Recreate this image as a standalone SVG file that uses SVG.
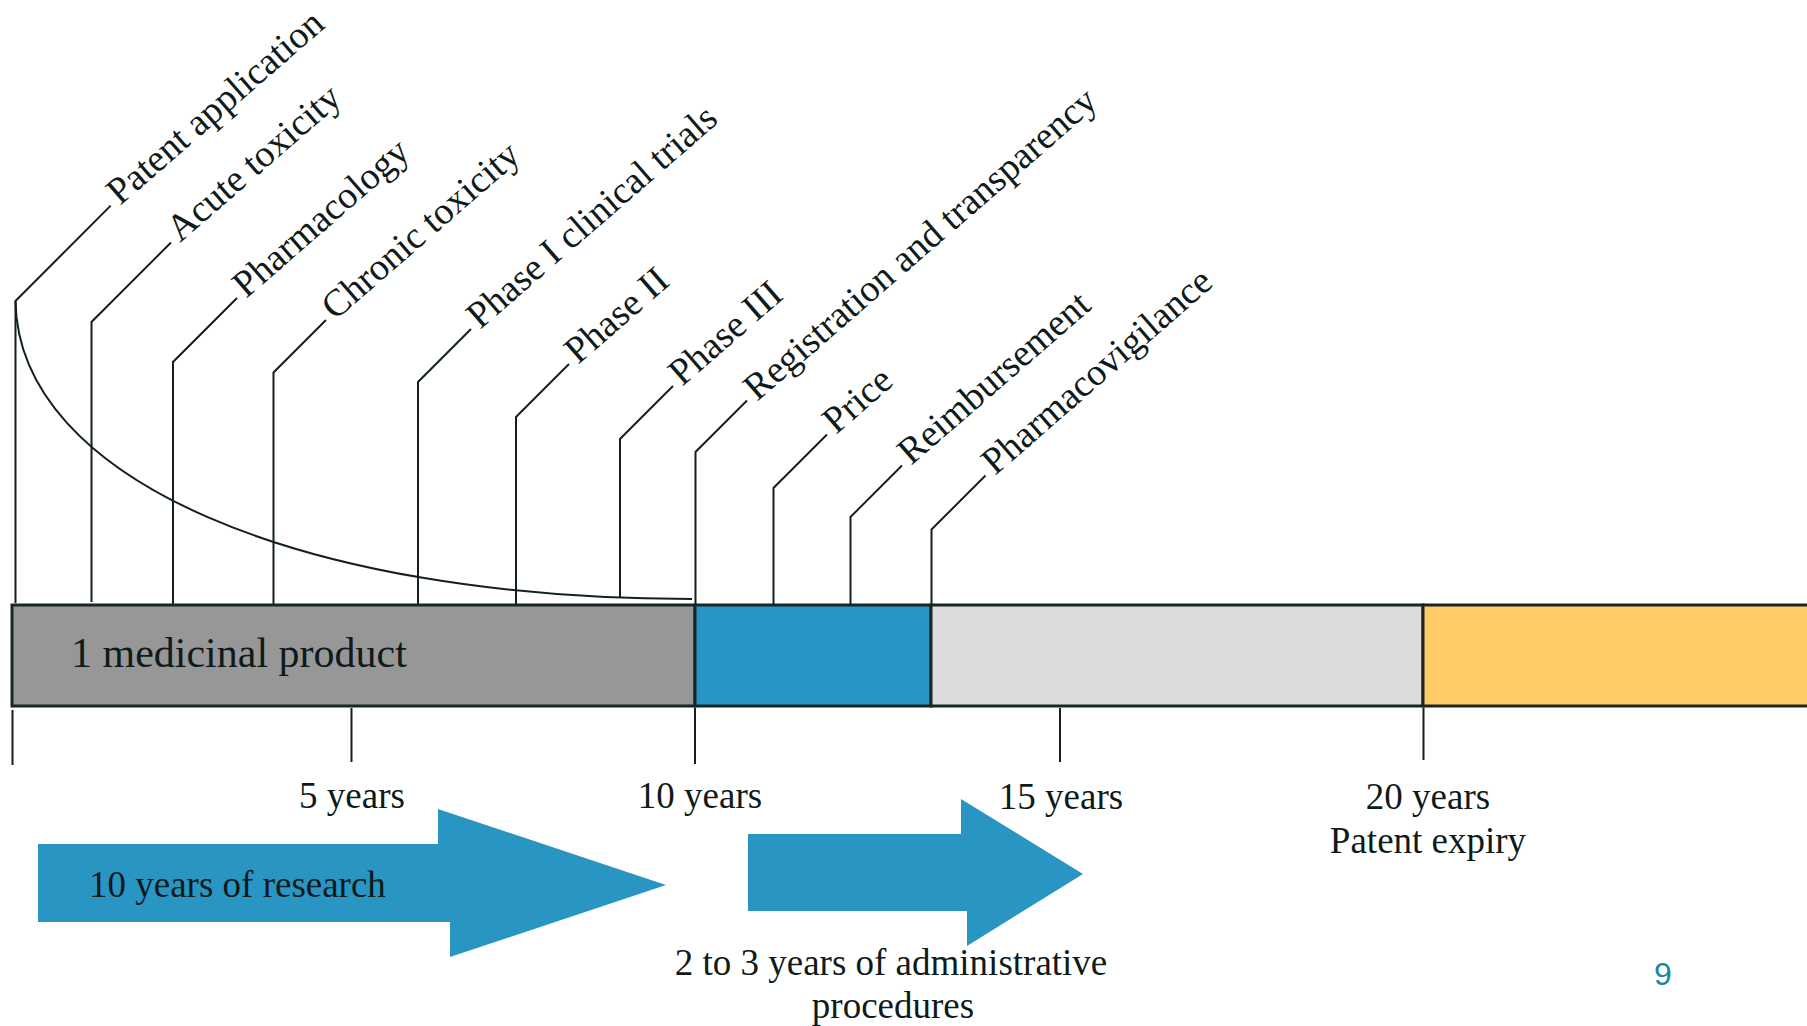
<svg xmlns="http://www.w3.org/2000/svg" width="1807" height="1026" viewBox="0 0 1807 1026">
<style>
  .t { font-family: "Liberation Serif", "Times New Roman", serif; fill: #0f1a1a; }
  .lbl { font-size: 38px; }
  .ax { font-size: 37px; text-anchor: middle; }
  .ln { stroke: #142020; stroke-width: 2; fill: none; }
  .seg { stroke: #1a2626; stroke-width: 3; }
  .arr { fill: #2995C3; }
</style>
<rect width="1807" height="1026" fill="#ffffff"/>

<g id="connectors">
  <path class="ln" d="M15.5,603 V301 L110.7,205.6"/>
  <path class="ln" d="M91.5,602 V322 L171,242.5"/>
  <path class="ln" d="M173,604 V362 L237,298"/>
  <path class="ln" d="M273.5,604 V372.5 L326,320"/>
  <path class="ln" d="M418,604 V382 L471,329"/>
  <path class="ln" d="M516,604 V417 L569,364"/>
  <path class="ln" d="M620,598 V439 L673,386"/>
  <path class="ln" d="M695.5,604 V452 L747,400.5"/>
  <path class="ln" d="M773.5,604 V488 L827,434.5"/>
  <path class="ln" d="M850.5,607 V517 L902,465.5"/>
  <path class="ln" d="M931.5,604 V529.5 L985.5,475.5"/>
  <path class="ln" d="M15.5,301 C18,480 300,599 692,599"/>
  <path class="ln" d="M12.5,710 V765 M351.5,708 V762 M695,708 V764 M1060,708 V762 M1423.5,708 V760"/>
</g>

<g id="bar">
  <rect class="seg" x="12" y="605" width="683" height="101" fill="#979797"/>
  <rect class="seg" x="695" y="605" width="236" height="101" fill="#2896C4"/>
  <rect class="seg" x="931" y="605" width="492" height="101" fill="#DCDCDC"/>
  <rect class="seg" x="1423" y="605" width="400" height="101" fill="#FECB66"/>
  <text class="t" x="71" y="667" font-size="42">1 medicinal product</text>
</g>

<g id="labels">
  <text class="t lbl" transform="translate(120 206) rotate(-41)">Patent application</text>
  <text class="t lbl" transform="translate(180 243) rotate(-41)">Acute toxicity</text>
  <text class="t lbl" transform="translate(246 299) rotate(-41)">Pharmacology</text>
  <text class="t lbl" transform="translate(335 321) rotate(-41)">Chronic toxicity</text>
  <text class="t lbl" transform="translate(480 330) rotate(-41)">Phase I clinical trials</text>
  <text class="t lbl" transform="translate(578 365) rotate(-41)">Phase II</text>
  <text class="t lbl" transform="translate(682 387) rotate(-41)">Phase III</text>
  <text class="t lbl" transform="translate(757 402) rotate(-41)">Registration and transparency</text>
  <text class="t lbl" transform="translate(836 435) rotate(-41)">Price</text>
  <text class="t lbl" transform="translate(911 466) rotate(-41)">Reimbursement</text>
  <text class="t lbl" transform="translate(995 476) rotate(-41)">Pharmacovigilance</text>
</g>

<g id="axis-labels">
  <text class="t ax" x="352" y="808">5 years</text>
  <text class="t ax" x="700" y="808">10 years</text>
  <text class="t ax" x="1061" y="809">15 years</text>
  <text class="t ax" x="1428" y="809">20 years</text>
  <text class="t ax" x="1428" y="853">Patent expiry</text>
</g>

<g id="research-arrow">
  <polygon class="arr" points="38,844 438,844 438,809 666,885 450,957 450,922 38,922"/>
  <text class="t" x="89" y="897" font-size="37">10 years of research</text>
</g>

<g id="admin-arrow">
  <polygon class="arr" points="748,834 961,834 961,799 1083,874 967,946 967,911 748,911"/>
  <text class="t ax" x="891" y="975">2 to 3 years of administrative</text>
  <text class="t ax" x="893" y="1018">procedures</text>
</g>

<text x="1663" y="985" font-family="'Liberation Sans', Arial, sans-serif" font-size="32" fill="#15879F" text-anchor="middle">9</text>
</svg>
